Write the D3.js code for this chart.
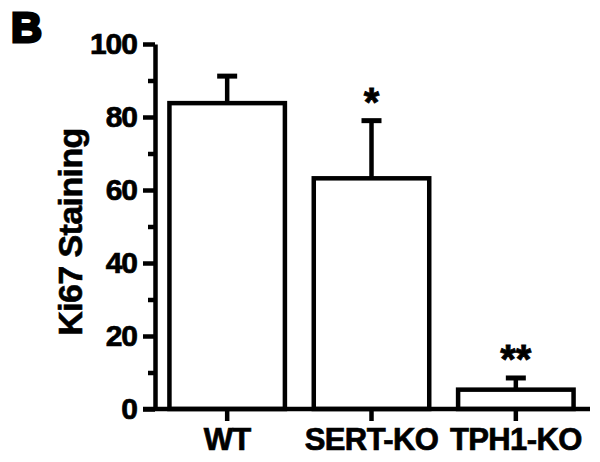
<!DOCTYPE html>
<html>
<head>
<meta charset="utf-8">
<script src="https://cdn.jsdelivr.net/npm/d3@7"></script>
<style>
  body { margin: 0; background: #fff; }
  svg { display: block; font-family: "Liberation Sans", Arial, sans-serif; font-weight: bold; }
</style>
</head>
<body>
<div id="chart"></div>
<script>
const groups = ['WT', 'SERT-KO', 'TPH1-KO'];
const means = [83.8, 63.2, 5.3];
const errors = [7.4, 15.8, 3.2];
const stars = ['', '*', '**'];
const yTicks = [0, 20, 40, 60, 80, 100];
const yMinorTicks = [10, 30, 50, 70, 90];

const width = 600, height = 462;
const data = groups.map((g, i) => ({ group: g, mean: means[i], err: errors[i], star: stars[i] }));

const svg = d3.select('#chart').append('svg')
  .attr('width', width)
  .attr('height', height);

const x = d3.scaleBand()
  .domain(groups)
  .range([155, 588])
  .paddingInner(0.2)
  .paddingOuter(0.1);

const y = d3.scaleLinear()
  .domain([0, 100])
  .range([409, 44]);

// panel letter
svg.append('text')
  .attr('x', 11)
  .attr('y', 42)
  .attr('font-size', 43)
  .attr('stroke', '#000')
  .attr('stroke-width', 3)
  .text('B');

// bars
svg.selectAll('.bar')
  .data(data)
  .enter().append('rect')
    .attr('class', 'bar')
    .attr('x', d => x(d.group))
    .attr('y', d => y(d.mean))
    .attr('width', x.bandwidth())
    .attr('height', d => y(0) - y(d.mean))
    .attr('fill', '#fff')
    .attr('stroke', '#000')
    .attr('stroke-width', 4.5);

// error bars
const err = svg.selectAll('.err')
  .data(data)
  .enter().append('g')
    .attr('class', 'err')
    .attr('transform', d => `translate(${x(d.group) + x.bandwidth() / 2},0)`);

err.append('line')
  .attr('y1', d => y(d.mean))
  .attr('y2', d => y(d.mean + d.err))
  .attr('stroke', '#000')
  .attr('stroke-width', 4.5);

err.append('line')
  .attr('x1', -10)
  .attr('x2', 10)
  .attr('y1', d => y(d.mean + d.err))
  .attr('y2', d => y(d.mean + d.err))
  .attr('stroke', '#000')
  .attr('stroke-width', 5);

err.append('text')
  .attr('y', d => y(d.mean + d.err) - 5)
  .attr('text-anchor', 'middle')
  .attr('font-size', 40)
  .attr('stroke', '#000')
  .attr('stroke-width', 0.8)
  .text(d => d.star);

// y axis
const yAxis = svg.append('g')
  .attr('transform', 'translate(155,0)')
  .call(d3.axisLeft(y).tickValues(yTicks).tickSize(12).tickSizeOuter(0).tickPadding(6));

const yMinor = svg.append('g')
  .attr('transform', 'translate(155,0)')
  .call(d3.axisLeft(y).tickValues(yMinorTicks).tickSize(7).tickFormat(''));
yMinor.select('.domain').remove();

// x axis, labels raised so they sit where the reference has them (baseline ~450)
const xAxis = svg.append('g')
  .attr('transform', `translate(0,${y(0)})`)
  .call(d3.axisBottom(x).tickSize(12).tickSizeOuter(0).tickPadding(7));
xAxis.select('.domain').remove();

svg.append('line')
  .attr('x1', 143)
  .attr('x2', 590)
  .attr('y1', y(0))
  .attr('y2', y(0))
  .attr('stroke', '#000')
  .attr('stroke-width', 4.5);

svg.selectAll('.domain, .tick line')
  .attr('stroke', '#000')
  .attr('stroke-width', 4.5);

svg.selectAll('.tick text')
  .attr('font-size', 30)
  .attr('font-family', '"Liberation Sans", Arial, sans-serif')
  .attr('font-weight', 'bold')
  .attr('letter-spacing', -1)
  .attr('stroke', '#000')
  .attr('stroke-width', 0.7)
  .attr('fill', '#000');

xAxis.selectAll('.tick text')
  .attr('font-size', 31)
  .attr('letter-spacing', -0.6);

// y axis title
svg.append('text')
  .attr('transform', 'translate(82,232) rotate(-90)')
  .attr('text-anchor', 'middle')
  .attr('font-size', 34)
  .attr('letter-spacing', -0.6)
  .attr('stroke', '#000')
  .attr('stroke-width', 0.6)
  .text('Ki67 Staining');
</script>
</body>
</html>
